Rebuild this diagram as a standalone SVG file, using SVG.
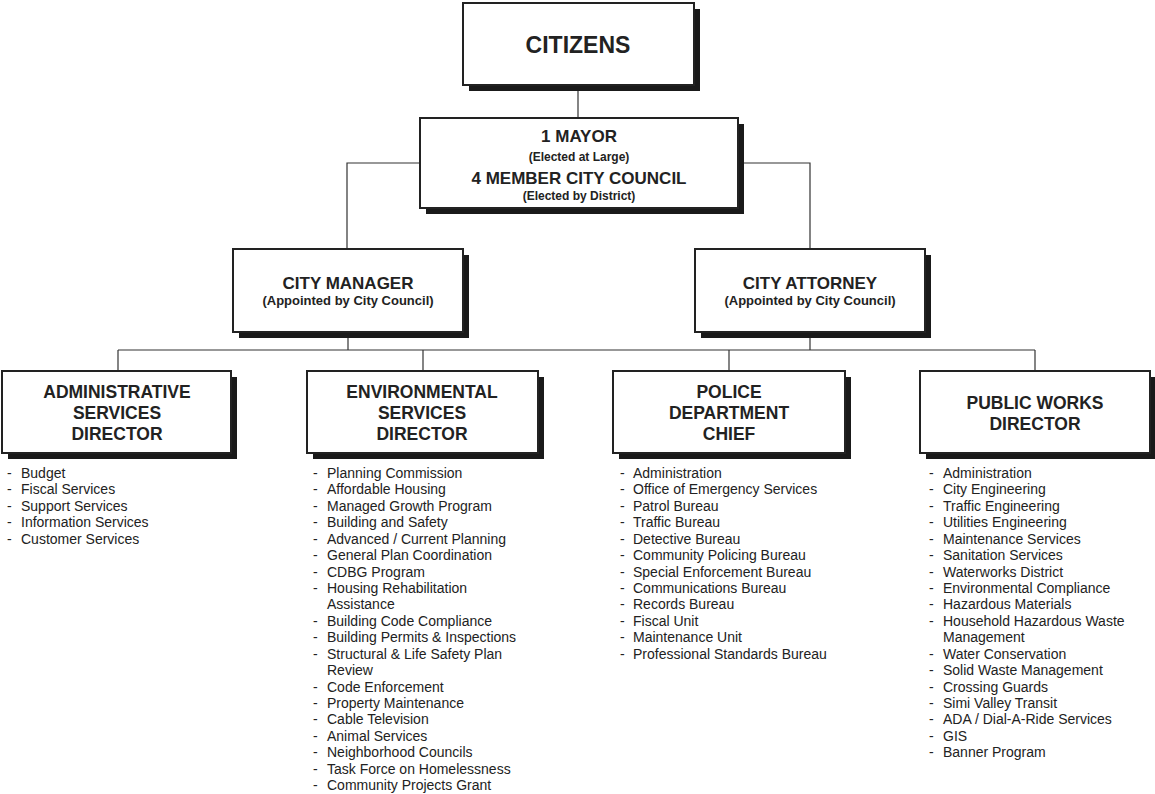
<svg xmlns="http://www.w3.org/2000/svg" width="1155" height="794" viewBox="0 0 1155 794">
  <style>
    .box { fill: #fff; stroke: #222; stroke-width: 2; }
    .shadow { fill: #1a1a1a; }
    .wire { fill: none; stroke: #333; stroke-width: 1.2; }
    .t { font-family: "Liberation Sans", Arial, sans-serif; font-weight: bold; fill: #222; text-anchor: middle; }
    .h1 { font-size: 23px; }
    .h2 { font-size: 17px; }
    .h3 { font-size: 17.5px; }
    .sub { font-size: 13px; }
    .li { font-family: "Liberation Sans", Arial, sans-serif; font-size: 14px; fill: #222; }
  </style>

  <!-- connectors -->
  <g id="connectors" class="wire">
    <line x1="578" y1="85" x2="578" y2="118"/>
    <polyline points="420,163 347,163 347,249"/>
    <polyline points="738,163 810,163 810,249"/>
    <line x1="348" y1="332" x2="348" y2="350"/>
    <line x1="810" y1="332" x2="810" y2="350"/>
    <line x1="118" y1="350" x2="1035" y2="350"/>
    <line x1="118" y1="350" x2="118" y2="371"/>
    <line x1="423" y1="350" x2="423" y2="371"/>
    <line x1="729" y1="350" x2="729" y2="371"/>
    <line x1="1035" y1="350" x2="1035" y2="371"/>
  </g>

  <g id="citizens">
    <rect class="shadow" x="469" y="9" width="231" height="82"/>
    <rect class="box" x="463" y="3" width="231" height="82"/>
    <text class="t h1" x="578" y="53">CITIZENS</text>
  </g>

  <g id="council">
    <rect class="shadow" x="426" y="124" width="318" height="90"/>
    <rect class="box" x="420" y="118" width="318" height="90"/>
    <text class="t h2" x="579" y="142">1 MAYOR</text>
    <text class="t sub" x="579" y="161" style="font-size:12px">(Elected at Large)</text>
    <text class="t h2" x="579" y="184">4 MEMBER CITY COUNCIL</text>
    <text class="t sub" x="579" y="200" style="font-size:12px">(Elected by District)</text>
  </g>

  <g id="city-manager">
    <rect class="shadow" x="239" y="255" width="230" height="83"/>
    <rect class="box" x="233" y="249" width="230" height="83"/>
    <text class="t h2" x="348" y="289">CITY MANAGER</text>
    <text class="t sub" x="348" y="305">(Appointed by City Council)</text>
  </g>

  <g id="city-attorney">
    <rect class="shadow" x="701" y="255" width="230" height="83"/>
    <rect class="box" x="695" y="249" width="230" height="83"/>
    <text class="t h2" x="810" y="289">CITY ATTORNEY</text>
    <text class="t sub" x="810" y="305">(Appointed by City Council)</text>
  </g>

  <g id="administrative-services">
    <rect class="shadow" x="8" y="377" width="229" height="82"/>
    <rect class="box" x="2" y="371" width="229" height="82"/>
    <text class="t h3" x="117" y="398">ADMINISTRATIVE</text>
    <text class="t h3" x="117" y="419">SERVICES</text>
    <text class="t h3" x="117" y="440">DIRECTOR</text>
    <g class="li">
      <text x="7" y="478">-</text><text x="21" y="478">Budget</text>
      <text x="7" y="494.4">-</text><text x="21" y="494.4">Fiscal Services</text>
      <text x="7" y="510.8">-</text><text x="21" y="510.8">Support Services</text>
      <text x="7" y="527.3">-</text><text x="21" y="527.3">Information Services</text>
      <text x="7" y="543.7">-</text><text x="21" y="543.7">Customer Services</text>
    </g>
  </g>

  <g id="environmental-services">
    <rect class="shadow" x="313" y="377" width="231" height="82"/>
    <rect class="box" x="307" y="371" width="231" height="82"/>
    <text class="t h3" x="422" y="398">ENVIRONMENTAL</text>
    <text class="t h3" x="422" y="419">SERVICES</text>
    <text class="t h3" x="422" y="440">DIRECTOR</text>
    <g class="li">
      <text x="313" y="478">-</text><text x="327" y="478">Planning Commission</text>
      <text x="313" y="494.4">-</text><text x="327" y="494.4">Affordable Housing</text>
      <text x="313" y="510.8">-</text><text x="327" y="510.8">Managed Growth Program</text>
      <text x="313" y="527.3">-</text><text x="327" y="527.3">Building and Safety</text>
      <text x="313" y="543.7">-</text><text x="327" y="543.7">Advanced / Current Planning</text>
      <text x="313" y="560.1">-</text><text x="327" y="560.1">General Plan Coordination</text>
      <text x="313" y="576.5">-</text><text x="327" y="576.5">CDBG Program</text>
      <text x="313" y="592.9">-</text><text x="327" y="592.9">Housing Rehabilitation</text>
      <text x="327" y="609.4">Assistance</text>
      <text x="313" y="625.8">-</text><text x="327" y="625.8">Building Code Compliance</text>
      <text x="313" y="642.2">-</text><text x="327" y="642.2">Building Permits &amp; Inspections</text>
      <text x="313" y="658.6">-</text><text x="327" y="658.6">Structural &amp; Life Safety Plan</text>
      <text x="327" y="675">Review</text>
      <text x="313" y="691.5">-</text><text x="327" y="691.5">Code Enforcement</text>
      <text x="313" y="707.9">-</text><text x="327" y="707.9">Property Maintenance</text>
      <text x="313" y="724.3">-</text><text x="327" y="724.3">Cable Television</text>
      <text x="313" y="740.7">-</text><text x="327" y="740.7">Animal Services</text>
      <text x="313" y="757.1">-</text><text x="327" y="757.1">Neighborhood Councils</text>
      <text x="313" y="773.6">-</text><text x="327" y="773.6">Task Force on Homelessness</text>
      <text x="313" y="790">-</text><text x="327" y="790">Community Projects Grant</text>
    </g>
  </g>

  <g id="police-department">
    <rect class="shadow" x="619" y="377" width="232" height="82"/>
    <rect class="box" x="613" y="371" width="232" height="82"/>
    <text class="t h3" x="729" y="398">POLICE</text>
    <text class="t h3" x="729" y="419">DEPARTMENT</text>
    <text class="t h3" x="729" y="440">CHIEF</text>
    <g class="li">
      <text x="620" y="478">-</text><text x="633" y="478">Administration</text>
      <text x="620" y="494.4">-</text><text x="633" y="494.4">Office of Emergency Services</text>
      <text x="620" y="510.8">-</text><text x="633" y="510.8">Patrol Bureau</text>
      <text x="620" y="527.3">-</text><text x="633" y="527.3">Traffic Bureau</text>
      <text x="620" y="543.7">-</text><text x="633" y="543.7">Detective Bureau</text>
      <text x="620" y="560.1">-</text><text x="633" y="560.1">Community Policing Bureau</text>
      <text x="620" y="576.5">-</text><text x="633" y="576.5">Special Enforcement Bureau</text>
      <text x="620" y="592.9">-</text><text x="633" y="592.9">Communications Bureau</text>
      <text x="620" y="609.4">-</text><text x="633" y="609.4">Records Bureau</text>
      <text x="620" y="625.8">-</text><text x="633" y="625.8">Fiscal Unit</text>
      <text x="620" y="642.2">-</text><text x="633" y="642.2">Maintenance Unit</text>
      <text x="620" y="658.6">-</text><text x="633" y="658.6">Professional Standards Bureau</text>
    </g>
  </g>

  <g id="public-works">
    <rect class="shadow" x="926" y="377" width="230" height="82"/>
    <rect class="box" x="920" y="371" width="230" height="82"/>
    <text class="t h3" x="1035" y="409">PUBLIC WORKS</text>
    <text class="t h3" x="1035" y="430">DIRECTOR</text>
    <g class="li">
      <text x="929" y="478">-</text><text x="943" y="478">Administration</text>
      <text x="929" y="494.4">-</text><text x="943" y="494.4">City Engineering</text>
      <text x="929" y="510.8">-</text><text x="943" y="510.8">Traffic Engineering</text>
      <text x="929" y="527.3">-</text><text x="943" y="527.3">Utilities Engineering</text>
      <text x="929" y="543.7">-</text><text x="943" y="543.7">Maintenance Services</text>
      <text x="929" y="560.1">-</text><text x="943" y="560.1">Sanitation Services</text>
      <text x="929" y="576.5">-</text><text x="943" y="576.5">Waterworks District</text>
      <text x="929" y="592.9">-</text><text x="943" y="592.9">Environmental Compliance</text>
      <text x="929" y="609.4">-</text><text x="943" y="609.4">Hazardous Materials</text>
      <text x="929" y="625.8">-</text><text x="943" y="625.8">Household Hazardous Waste</text>
      <text x="943" y="642.2">Management</text>
      <text x="929" y="658.6">-</text><text x="943" y="658.6">Water Conservation</text>
      <text x="929" y="675">-</text><text x="943" y="675">Solid Waste Management</text>
      <text x="929" y="691.5">-</text><text x="943" y="691.5">Crossing Guards</text>
      <text x="929" y="707.9">-</text><text x="943" y="707.9">Simi Valley Transit</text>
      <text x="929" y="724.3">-</text><text x="943" y="724.3">ADA / Dial-A-Ride Services</text>
      <text x="929" y="740.7">-</text><text x="943" y="740.7">GIS</text>
      <text x="929" y="757.1">-</text><text x="943" y="757.1">Banner Program</text>
    </g>
  </g>
</svg>
